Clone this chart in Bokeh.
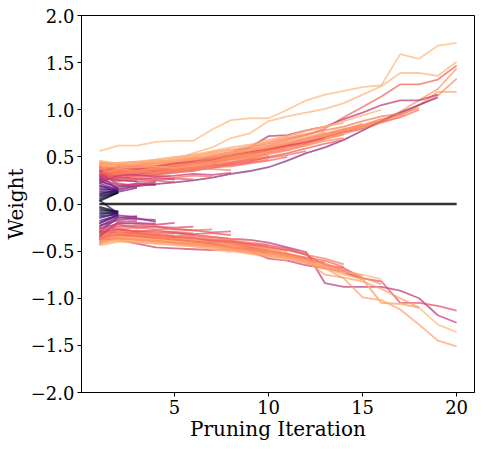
from bokeh.plotting import figure
from bokeh.models import Range1d, FixedTicker, CustomJSTickFormatter, ColumnDataSource
from bokeh.palettes import magma
from bokeh.embed import file_html
from bokeh.resources import INLINE

# ---------------- data (weight value per pruning iteration, starting at iteration 1) ----------------
iterations = list(range(1, 21))
zero_level = 0.0
x_ticks = [5, 10, 15, 20]
y_ticks = [-2.0, -1.5, -1.0, -0.5, 0.0, 0.5, 1.0, 1.5, 2.0]

# positive weights that survive (almost) all iterations
pos_long = [
    [0.56, 0.62, 0.62, 0.66, 0.67, 0.67, 0.79, 0.89, 0.91, 0.91, 1.00, 1.10, 1.16, 1.20, 1.24, 1.26, 1.59, 1.54, 1.68, 1.71],
    [0.42, 0.43, 0.44, 0.44, 0.47, 0.54, 0.60, 0.70, 0.75, 0.88, 0.93, 0.97, 1.01, 1.07, 1.16, 1.25, 1.39, 1.39, 1.36, 1.51],
    [0.35, 0.37, 0.38, 0.40, 0.43, 0.46, 0.50, 0.53, 0.58, 0.62, 0.68, 0.73, 0.80, 0.92, 1.03, 1.14, 1.27, 1.27, 1.32, 1.47],
    [0.32, 0.34, 0.36, 0.37, 0.40, 0.42, 0.45, 0.49, 0.53, 0.57, 0.60, 0.66, 0.71, 0.76, 0.82, 0.88, 0.98, 1.10, 1.22, 1.44],
    [0.38, 0.36, 0.39, 0.41, 0.43, 0.46, 0.49, 0.52, 0.56, 0.60, 0.64, 0.69, 0.74, 0.78, 0.84, 0.90, 0.95, 1.05, 1.15, 1.33],
    [0.28, 0.31, 0.33, 0.35, 0.37, 0.39, 0.43, 0.47, 0.50, 0.55, 0.60, 0.64, 0.69, 0.74, 0.80, 0.86, 0.93, 1.05, 1.19, 1.19],
    [0.10, 0.15, 0.19, 0.21, 0.23, 0.25, 0.28, 0.32, 0.35, 0.39, 0.46, 0.54, 0.60, 0.68, 0.78, 0.88, 0.97, 1.05, 1.13],
    [0.30, 0.30, 0.32, 0.35, 0.40, 0.45, 0.50, 0.55, 0.60, 0.72, 0.73, 0.78, 0.82, 0.90, 0.97, 1.05, 1.10, 1.10, 1.16],
]
pos_long_shade = [0.86, 0.85, 0.68, 0.78, 0.76, 0.80, 0.40, 0.52]

# positive weights pruned between iterations 15 and 18
pos_late = [
    [0.38, 0.35, 0.37, 0.39, 0.40, 0.43, 0.46, 0.50, 0.53, 0.58, 0.63, 0.68, 0.73, 0.79, 0.85],
    [0.33, 0.36, 0.38, 0.40, 0.42, 0.45, 0.47, 0.52, 0.56, 0.60, 0.65, 0.70, 0.75, 0.80, 0.83, 0.90],
    [0.40, 0.38, 0.41, 0.43, 0.45, 0.48, 0.52, 0.55, 0.60, 0.64, 0.70, 0.74, 0.78, 0.82, 0.88, 0.93, 0.96],
    [0.44, 0.42, 0.43, 0.45, 0.48, 0.50, 0.54, 0.57, 0.62, 0.66, 0.72, 0.77, 0.82, 0.88, 0.94, 1.00],
    [0.36, 0.34, 0.36, 0.38, 0.41, 0.44, 0.47, 0.50, 0.55, 0.59, 0.63, 0.67, 0.72, 0.77, 0.82, 0.88, 0.95, 1.02],
    [0.30, 0.32, 0.35, 0.36, 0.38, 0.42, 0.45, 0.48, 0.52, 0.57, 0.62, 0.66, 0.71, 0.76, 0.80, 0.87, 0.92, 1.00],
]
pos_late_shade = [0.74, 0.77, 0.72, 0.84, 0.75, 0.70]

# positive weights pruned between iterations 8 and 14
pos_mid = [
    [0.45, 0.41, 0.42, 0.44, 0.45, 0.46, 0.48, 0.50, 0.52],
    [0.29, 0.33, 0.36, 0.35, 0.37, 0.40, 0.42, 0.41, 0.44, 0.47],
    [0.41, 0.36, 0.38, 0.40, 0.41, 0.44, 0.46, 0.49, 0.51, 0.55, 0.58],
    [0.34, 0.31, 0.33, 0.32, 0.35, 0.37, 0.40, 0.43, 0.46, 0.49, 0.52, 0.56],
    [0.37, 0.40, 0.41, 0.43, 0.44, 0.47, 0.51, 0.54, 0.56, 0.60, 0.64, 0.68, 0.72],
    [0.25, 0.27, 0.30, 0.31, 0.33, 0.36, 0.38, 0.42, 0.45, 0.50, 0.54, 0.59, 0.64, 0.68],
    [0.43, 0.42, 0.44, 0.46, 0.46, 0.50, 0.55, 0.58, 0.60, 0.66, 0.70, 0.74],
    [0.31, 0.35, 0.34, 0.37, 0.39, 0.41, 0.43, 0.45, 0.48, 0.53, 0.57, 0.62, 0.67, 0.70],
    [0.39, 0.37, 0.39, 0.38, 0.42, 0.43, 0.45, 0.48, 0.50, 0.52],
    [0.27, 0.30, 0.29, 0.32, 0.34, 0.35, 0.39, 0.40, 0.43, 0.46, 0.50],
    [0.35, 0.39, 0.37, 0.40, 0.43, 0.45, 0.47, 0.52, 0.55, 0.58, 0.62, 0.65, 0.70],
    [0.42, 0.44, 0.45, 0.47, 0.50, 0.52, 0.56, 0.60, 0.63, 0.68, 0.72, 0.78, 0.82, 0.86],
    [0.44, 0.43, 0.45, 0.44, 0.47, 0.49, 0.51, 0.55, 0.58, 0.62, 0.67],
    [0.40, 0.41, 0.40, 0.42, 0.45, 0.48, 0.50, 0.53, 0.57, 0.61, 0.66, 0.71, 0.76],
    [0.33, 0.32, 0.35, 0.38, 0.39, 0.42, 0.44, 0.47, 0.49, 0.54, 0.58, 0.63, 0.69, 0.74],
    [0.46, 0.43, 0.44, 0.47, 0.49, 0.52, 0.54, 0.58],
    [0.37, 0.38, 0.40, 0.39, 0.41, 0.44, 0.48, 0.51, 0.54, 0.57, 0.60, 0.64],
    [0.31, 0.33, 0.31, 0.34, 0.36, 0.38, 0.41, 0.44, 0.47, 0.50],
]
pos_mid_shade = [0.78, 0.72, 0.76, 0.70, 0.79, 0.66, 0.80, 0.74, 0.77, 0.69, 0.58, 0.82,
                 0.82, 0.80, 0.75, 0.84, 0.73, 0.68]

# positive weights pruned between iterations 5 and 8
pos_early = [
    [0.36, 0.26, 0.24, 0.25, 0.23],
    [0.30, 0.28, 0.27, 0.26, 0.27, 0.26],
    [0.40, 0.24, 0.28, 0.30, 0.28, 0.30, 0.29],
    [0.22, 0.30, 0.31, 0.29, 0.30, 0.32, 0.31, 0.33],
    [0.33, 0.35, 0.33, 0.36, 0.34, 0.35],
    [0.38, 0.32, 0.35, 0.33, 0.36, 0.38, 0.37, 0.36],
    [0.26, 0.29, 0.26, 0.28, 0.26],
    [0.43, 0.38, 0.39, 0.40, 0.38, 0.41, 0.43],
]
pos_early_shade = [0.60, 0.64, 0.70, 0.55, 0.72, 0.74, 0.58, 0.80]

# positive weights pruned at iterations 3 and 4
pos_short = [
    [0.20, 0.13, 0.17],
    [0.27, 0.20, 0.18],
    [0.30, 0.16, 0.20, 0.21],
    [0.24, 0.18, 0.22, 0.20],
    [0.32, 0.22, 0.19, 0.23],
    [0.28, 0.25, 0.24],
    [0.35, 0.20, 0.21, 0.24],
]
pos_short_shade = [0.36, 0.44, 0.48, 0.40, 0.54, 0.50, 0.58]

# positive weights pruned at iteration 2
pos_first = [
    [0.03, 0.12], [0.05, 0.12], [0.07, 0.13], [0.09, 0.12], [0.11, 0.14], [0.13, 0.13],
    [0.15, 0.15], [0.17, 0.14], [0.19, 0.16], [0.22, 0.15], [0.25, 0.17],
]
pos_first_shade = [0.03, 0.06, 0.09, 0.12, 0.15, 0.18, 0.21, 0.24, 0.27, 0.31, 0.35]

# negative weights that survive (almost) all iterations
neg_long = [
    [-0.30, -0.27, -0.29, -0.30, -0.31, -0.33, -0.35, -0.37, -0.38, -0.41, -0.46, -0.51, -0.84, -0.88, -0.88, -0.88, -0.92, -1.00, -1.18, -1.26],
    [-0.35, -0.32, -0.34, -0.36, -0.37, -0.38, -0.40, -0.41, -0.42, -0.44, -0.47, -0.54, -0.65, -0.68, -0.79, -0.82, -1.05, -1.05, -1.08, -1.13],
    [-0.33, -0.31, -0.33, -0.35, -0.36, -0.38, -0.39, -0.42, -0.45, -0.48, -0.52, -0.58, -0.68, -0.74, -0.79, -1.05, -1.06, -1.10, -1.28, -1.36],
    [-0.38, -0.35, -0.36, -0.38, -0.40, -0.41, -0.43, -0.45, -0.47, -0.50, -0.55, -0.60, -0.68, -0.79, -0.99, -1.02, -1.12, -1.28, -1.45, -1.51],
    [-0.37, -0.38, -0.42, -0.46, -0.47, -0.48, -0.49, -0.48, -0.50, -0.58, -0.60, -0.65, -0.68, -0.72, -0.80],
]
neg_long_shade = [0.52, 0.62, 0.86, 0.80, 0.56]

# negative weights pruned between iterations 8 and 18
neg_mid = [
    [-0.40, -0.29, -0.31, -0.32, -0.34, -0.33, -0.35, -0.37, -0.38],
    [-0.32, -0.31, -0.34, -0.33, -0.36, -0.37, -0.38, -0.39, -0.41, -0.43],
    [-0.28, -0.35, -0.33, -0.36, -0.35, -0.38, -0.40, -0.41, -0.44, -0.47, -0.50],
    [-0.43, -0.34, -0.36, -0.37, -0.38, -0.41, -0.42, -0.45, -0.46, -0.50, -0.54, -0.58],
    [-0.37, -0.37, -0.38, -0.40, -0.41, -0.43, -0.44, -0.47, -0.49, -0.53, -0.56, -0.60, -0.62],
    [-0.34, -0.28, -0.30, -0.31, -0.34, -0.35, -0.37, -0.39, -0.42, -0.45, -0.49, -0.54, -0.58, -0.64],
    [-0.39, -0.33, -0.35, -0.38, -0.40, -0.42, -0.43, -0.44, -0.48, -0.52, -0.55, -0.57],
    [-0.30, -0.32, -0.33, -0.35, -0.37, -0.39, -0.41, -0.43, -0.46, -0.50, -0.53, -0.57, -0.60, -0.67],
    [-0.42, -0.36, -0.39, -0.41, -0.42, -0.44, -0.46, -0.49, -0.52, -0.55, -0.58, -0.63, -0.69],
    [-0.36, -0.31, -0.32, -0.34, -0.36, -0.38, -0.40, -0.42, -0.45, -0.49, -0.53, -0.58, -0.63, -0.70, -0.76],
    [-0.33, -0.35, -0.37, -0.38, -0.39, -0.41, -0.44, -0.47, -0.50, -0.53, -0.56, -0.60, -0.66, -0.72, -0.75, -0.80],
    [-0.40, -0.38, -0.39, -0.40, -0.42, -0.43, -0.45, -0.47, -0.50, -0.54, -0.57, -0.62, -0.68, -0.75, -0.80, -1.05, -1.06, -1.10],
    [-0.31, -0.30, -0.33, -0.35, -0.37, -0.38, -0.40, -0.44, -0.48, -0.51, -0.55, -0.60, -0.75, -0.78, -0.82, -0.90, -1.00, -1.10],
    [-0.44, -0.40, -0.41, -0.42, -0.43, -0.45, -0.47, -0.50, -0.53, -0.56, -0.60],
    [-0.41, -0.37, -0.37, -0.39, -0.41, -0.44, -0.45, -0.48, -0.51, -0.54, -0.57, -0.62, -0.66, -0.72],
    [-0.35, -0.33, -0.34, -0.36, -0.38, -0.40, -0.42, -0.46, -0.48, -0.52],
    [-0.38, -0.36, -0.38, -0.39, -0.41, -0.42, -0.44, -0.46, -0.49, -0.52, -0.55, -0.59, -0.64, -0.71, -0.78, -0.85],
    [-0.29, -0.30, -0.31, -0.33, -0.35, -0.36, -0.39, -0.40, -0.43, -0.46, -0.49, -0.53],
    [-0.42, -0.39, -0.40, -0.42, -0.44, -0.45, -0.48, -0.51],
]
neg_mid_shade = [0.74, 0.70, 0.78, 0.76, 0.66, 0.72, 0.80, 0.68, 0.77, 0.74, 0.86, 0.84, 0.80,
                 0.82, 0.80, 0.70, 0.76, 0.66, 0.84]

# negative weights pruned between iterations 3 and 8
neg_early = [
    [-0.20, -0.12, -0.14],
    [-0.27, -0.15, -0.13],
    [-0.30, -0.14, -0.16, -0.17],
    [-0.23, -0.17, -0.15, -0.19],
    [-0.33, -0.19, -0.18],
    [-0.26, -0.21, -0.20, -0.21],
    [-0.35, -0.20, -0.21, -0.22, -0.20],
    [-0.29, -0.24, -0.23, -0.24, -0.25, -0.24],
    [-0.38, -0.26, -0.25, -0.27, -0.26, -0.28, -0.27],
    [-0.31, -0.22, -0.25, -0.24, -0.27, -0.28, -0.30, -0.29],
    [-0.41, -0.30, -0.28, -0.30, -0.29, -0.31],
    [-0.25, -0.27, -0.29, -0.28, -0.30, -0.32, -0.31, -0.33],
    [-0.36, -0.33, -0.32, -0.34, -0.33],
]
neg_early_shade = [0.36, 0.42, 0.46, 0.40, 0.50, 0.48, 0.56, 0.60, 0.70, 0.64, 0.76, 0.62, 0.72]

# negative weights pruned at iteration 2 (one of them crosses zero)
neg_first = [
    [-0.03, -0.08], [-0.05, -0.09], [-0.07, -0.08], [-0.09, -0.10], [-0.11, -0.09],
    [-0.13, -0.11], [-0.15, -0.10], [-0.18, -0.12], [-0.21, -0.11], [-0.24, -0.13],
    [0.04, -0.10],
]
neg_first_shade = [0.03, 0.06, 0.09, 0.12, 0.15, 0.18, 0.21, 0.25, 0.29, 0.33, 0.22]

# ---------------- build ----------------
palette = magma(256)

groups = [
    (pos_long, pos_long_shade), (neg_long, neg_long_shade),
    (pos_late, pos_late_shade),
    (pos_mid, pos_mid_shade), (neg_mid, neg_mid_shade),
    (pos_early, pos_early_shade), (neg_early, neg_early_shade),
    (pos_short, pos_short_shade),
    (pos_first, pos_first_shade), (neg_first, neg_first_shade),
]

xs, ys, cols = [], [], []
for series_list, shades in groups:
    for series, shade in zip(series_list, shades):
        xs.append(iterations[:len(series)])
        ys.append(series)
        cols.append(palette[int(round(shade * 255))])

src = ColumnDataSource(dict(xs=xs, ys=ys, color=cols))

FONT = "DejaVu Serif"

p = figure(width=475, height=443, output_backend="svg", toolbar_location=None,
           x_range=Range1d(0.05, 20.95), y_range=Range1d(-2.0, 2.0),
           min_border_left=0, min_border_right=1, min_border_top=15, min_border_bottom=0)

p.multi_line(xs="xs", ys="ys", line_color="color", line_alpha=0.72, line_width=1.8, source=src)
p.line([iterations[0], iterations[-1]], [zero_level, zero_level], line_color="black",
       line_alpha=0.8, line_width=2.5)

p.grid.visible = False
p.outline_line_color = "black"
p.outline_line_alpha = 1.0
p.outline_line_width = 1
p.background_fill_color = "white"
p.border_fill_color = "white"

p.xaxis.ticker = FixedTicker(ticks=x_ticks)
p.yaxis.ticker = FixedTicker(ticks=y_ticks)
p.yaxis.formatter = CustomJSTickFormatter(
    code="return (tick < 0 ? '\\u2212' : '') + Math.abs(tick).toFixed(1);")

for ax in (p.xaxis[0], p.yaxis[0]):
    ax.major_label_text_font = FONT
    ax.major_label_text_font_size = "18px"
    ax.major_label_text_color = "black"
    ax.axis_label_text_font = FONT
    ax.axis_label_text_font_size = "20px"
    ax.axis_label_text_font_style = "normal"
    ax.axis_label_text_color = "black"
    ax.major_tick_in = 0
    ax.major_tick_out = 4
    ax.minor_tick_in = 0
    ax.minor_tick_out = 0
    ax.axis_line_color = "black"
    ax.major_tick_line_color = "black"

p.yaxis.major_label_standoff = 3
p.yaxis.axis_label_standoff = 0
p.xaxis.major_label_standoff = 3
p.xaxis.axis_label_standoff = 0

p.xaxis.axis_label = "Pruning Iteration"
p.yaxis.axis_label = "Weight"

open("out.html", "w").write(file_html(p, INLINE))
